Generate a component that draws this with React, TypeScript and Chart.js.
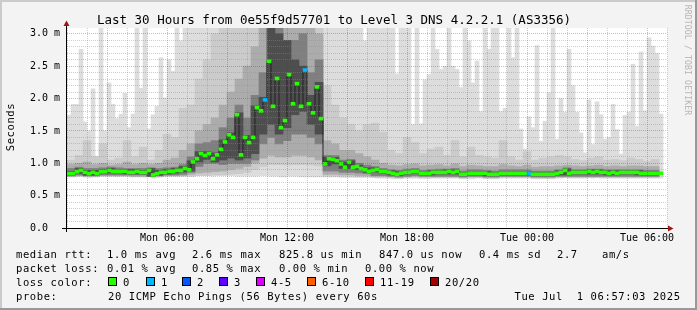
import React, { useEffect, useRef } from 'react';
import { Chart, registerables } from 'chart.js';

Chart.register(...registerables);

// ---------- text ----------
const titleText = 'Last 30 Hours from 0e55f9d57701 to Level 3 DNS 4.2.2.1 (AS3356)';
const yAxisTitle = 'Seconds';
const watermark = 'RRDTOOL / TOBI OETIKER';
const rttLabel = 'median rtt:';
const rttStats = ['1.0 ms avg', '2.6 ms max', '825.8 us min', '847.0 us now', '0.4 ms sd', '2.7', 'am/s'];
const lossLabel = 'packet loss:';
const lossStats = ['0.01 % avg', '0.85 % max', '0.00 % min', '0.00 % now'];
const lossColorLabel = 'loss color:';
const lossColorNames = ['0', '1', '2', '3', '4-5', '6-10', '11-19', '20/20'];
const lossColors = ['#26ff00', '#00b8ff', '#0059ff', '#5e00ff', '#dd00ff', '#ff5e00', '#ff0000', '#a10000'];
const probeLabel = 'probe:';
const probeText = '20 ICMP Echo Pings (56 Bytes) every 60s';
const stampText = 'Tue Jul  1 06:57:03 2025';

// ---------- axes ----------
const startHour = 1; // Mon 01:00
const endHour = 31; // Tue 07:00
const stepHours = 0.2; // one sample every 12 minutes
const timeTickHours = [6, 12, 18, 24, 30];
const timeTickLabels = ['Mon 06:00', 'Mon 12:00', 'Mon 18:00', 'Tue 00:00', 'Tue 06:00'];
const yTickValues = [0, 0.5, 1, 1.5, 2, 2.5, 3];
const yTickLabels = ['0.0', '0.5 m', '1.0 m', '1.5 m', '2.0 m', '2.5 m', '3.0 m'];
const yMax = 3.09;

// ---------- data (ms) ----------
const medianMs = [
  0.84, 0.84, 0.87, 0.89, 0.86, 0.84, 0.86, 0.84, 0.87, 0.87,
  0.89, 0.875, 0.875, 0.875, 0.875, 0.86, 0.86, 0.875, 0.86, 0.86,
  0.89, 0.82, 0.84, 0.86, 0.86, 0.875, 0.875, 0.89, 0.89, 0.92,
  0.90, 1.02, 1.07, 1.15, 1.12, 1.15, 1.07, 1.13, 1.215, 1.33,
  1.44, 1.40, 1.75, 1.13, 1.40, 1.32, 1.40, 1.86, 1.81, 1.98,
  2.575, 1.88, 2.31, 1.55, 1.66, 2.37, 1.92, 2.23, 1.88, 2.44,
  1.92, 1.78, 2.18, 1.69, 0.99, 1.07, 1.06, 1.04, 0.99, 0.94,
  1.015, 0.94, 0.95, 0.92, 0.90, 0.875, 0.89, 0.905, 0.875, 0.875,
  0.86, 0.845, 0.83, 0.845, 0.86, 0.86, 0.875, 0.875, 0.845, 0.845,
  0.845, 0.86, 0.86, 0.86, 0.86, 0.875, 0.86, 0.875, 0.83, 0.83,
  0.845, 0.845, 0.845, 0.845, 0.845, 0.83, 0.83, 0.83, 0.845, 0.845,
  0.845, 0.845, 0.845, 0.845, 0.845, 0.845, 0.83, 0.83, 0.83, 0.83,
  0.83, 0.83, 0.845, 0.86, 0.89, 0.845, 0.86, 0.86, 0.86, 0.86,
  0.875, 0.86, 0.875, 0.86, 0.86, 0.845, 0.86, 0.845, 0.86, 0.86,
  0.86, 0.86, 0.86, 0.845, 0.845, 0.845, 0.845, 0.845, 0.845, null,
];

const lossSampleIndex = [49, 59, 115];
const lossSampleCount = [1, 1, 1];

const smokeMinMs = [
  0.79, 0.79, 0.79, 0.80, 0.79, 0.78, 0.79, 0.79, 0.80, 0.80,
  0.80, 0.80, 0.79, 0.80, 0.80, 0.79, 0.79, 0.80, 0.79, 0.79,
  0.80, 0.77, 0.78, 0.79, 0.79, 0.80, 0.80, 0.80, 0.80, 0.81,
  0.80, 0.80, 0.81, 0.81, 0.81, 0.81, 0.80, 0.81, 0.81, 0.81,
  0.81, 0.81, 0.80, 0.80, 0.80, 0.80, 0.80, 0.80, 0.81, 0.81,
  0.80, 0.80, 0.80, 0.79, 0.79, 0.80, 0.80, 0.80, 0.79, 0.79,
  0.79, 0.79, 0.79, 0.79, 0.79, 0.79, 0.79, 0.79, 0.78, 0.78,
  0.78, 0.78, 0.78, 0.78, 0.78, 0.78, 0.78, 0.77, 0.77, 0.77,
  0.77, 0.76, 0.76, 0.76, 0.77, 0.77, 0.77, 0.77, 0.76, 0.76,
  0.76, 0.77, 0.77, 0.77, 0.77, 0.77, 0.77, 0.77, 0.76, 0.76,
  0.76, 0.76, 0.77, 0.77, 0.76, 0.76, 0.76, 0.76, 0.77, 0.77,
  0.77, 0.77, 0.77, 0.77, 0.77, 0.77, 0.76, 0.76, 0.76, 0.76,
  0.76, 0.76, 0.77, 0.77, 0.78, 0.77, 0.77, 0.77, 0.77, 0.77,
  0.78, 0.77, 0.78, 0.77, 0.77, 0.77, 0.77, 0.77, 0.77, 0.77,
  0.77, 0.77, 0.77, 0.77, 0.77, 0.77, 0.77, 0.77, 0.77, null,
];

const smokeMaxMs = [
  1.74, 1.91, 1.91, 2.76, 1.64, 1.50, 2.15, 1.11, 3.2, 1.50,
  2.24, 1.91, 1.69, 1.76, 2.08, 1.55, 1.76, 3.2, 2.16, 3.2,
  1.53, 1.75, 1.88, 2.63, 2.01, 2.60, 2.42, 3.2, 2.89, 3.2,
  3.2, 3.2, 3.2, 3.2, 3.2, 3.2, 3.2, 3.2, 3.2, 3.2,
  3.2, 3.2, 3.2, 3.2, 3.2, 3.2, 3.2, 3.2, 3.2, 3.2,
  3.2, 3.2, 3.2, 3.2, 3.2, 3.2, 3.2, 3.2, 3.2, 3.2,
  3.2, 3.2, 3.2, 3.2, 3.2, 3.2, 3.2, 3.2, 3.2, 3.2,
  3.2, 3.2, 3.2, 3.2, 2.89, 3.2, 3.2, 3.2, 3.08, 3.2,
  3.2, 3.2, 2.38, 3.2, 3.2, 3.2, 1.60, 3.2, 1.61, 2.29,
  2.37, 3.2, 2.76, 2.45, 2.50, 3.2, 2.50, 2.45, 2.17, 3.2,
  2.89, 2.24, 2.58, 1.80, 3.2, 2.76, 3.2, 3.2, 1.80, 1.85,
  3.2, 2.63, 3.2, 1.53, 1.22, 1.72, 1.55, 2.82, 1.34, 1.65,
  2.09, 3.2, 1.37, 2.00, 1.79, 2.76, 2.20, 1.79, 1.47, 1.16,
  1.98, 1.29, 1.95, 1.75, 1.37, 1.40, 1.91, 1.52, 1.14, 1.74,
  1.79, 2.53, 1.57, 2.72, 1.81, 2.94, 2.81, 2.70, 1.76, null,
];

// inner smoke bands, one value per two samples (24 minutes)
const band2Lo = [
  0.79, 0.80, 0.79, 0.79, 0.80, 0.80, 0.80, 0.80, 0.79, 0.79, 0.79, 0.79, 0.80, 0.80, 0.80,
  0.80, 0.81, 0.81, 0.82, 0.82, 0.83, 0.84, 0.86, 0.90, 0.95, 0.98, 0.98, 0.97, 0.98, 0.98, 0.97, 0.96,
  0.80, 0.80, 0.80, 0.80, 0.79, 0.79,
  0.78, 0.78, 0.78, 0.77, 0.78, 0.78, 0.78, 0.78, 0.78, 0.78, 0.78, 0.77, 0.78, 0.78, 0.77, 0.77, 0.78, 0.78, 0.78,
  0.78, 0.77, 0.77, 0.77, 0.78, 0.78, 0.78, 0.78, 0.78, 0.78, 0.78, 0.78, 0.78, 0.78, 0.78, 0.78, 0.78,
  null,
];
const band2Hi = [
  1.05, 1.12, 1.35, 1.10, 1.30, 1.05, 1.08, 1.35, 1.10, 1.25, 1.05, 1.20, 1.45, 1.40, 1.85,
  1.9, 2.3, 2.6, 3.0, 3.2, 3.2, 3.2, 3.2, 3.2, 3.2, 3.2, 3.2, 3.2, 3.2, 3.2, 3.2, 3.2,
  2.2, 1.9, 1.7, 1.6, 1.5, 1.6,
  1.62, 1.48, 1.20, 1.15, 1.40, 1.32, 1.15, 1.22, 1.25, 1.12, 1.35, 1.10, 1.25, 1.12, 1.10, 1.08, 1.35, 1.10, 1.05,
  1.18, 1.05, 1.08, 1.10, 1.12, 1.10, 1.06, 1.04, 1.08, 1.10, 1.05, 1.06, 1.04, 1.08, 1.06, 1.03, 1.06,
  null,
];
const band3Lo = [
  0.80, 0.81, 0.80, 0.80, 0.81, 0.81, 0.81, 0.81, 0.80, 0.80, 0.80, 0.80, 0.81, 0.81, 0.81,
  0.83, 0.85, 0.86, 0.87, 0.88, 0.90, 0.92, 0.95, 1.00, 1.08, 1.12, 1.10, 1.10, 1.12, 1.12, 1.10, 1.05,
  0.83, 0.83, 0.82, 0.82, 0.81, 0.81,
  0.80, 0.80, 0.79, 0.78, 0.79, 0.80, 0.79, 0.79, 0.79, 0.79, 0.79, 0.78, 0.79, 0.79, 0.78, 0.78, 0.79, 0.79, 0.79,
  0.79, 0.78, 0.78, 0.78, 0.79, 0.79, 0.79, 0.79, 0.79, 0.79, 0.79, 0.79, 0.79, 0.79, 0.79, 0.79, 0.79,
  null,
];
const band3Hi = [
  0.98, 1.00, 1.02, 0.98, 1.00, 0.97, 0.98, 1.02, 0.98, 1.00, 0.98, 1.00, 1.05, 1.08, 1.20,
  1.30, 1.50, 1.60, 1.70, 1.90, 2.10, 2.30, 2.50, 2.80, 3.20, 3.20, 3.20, 3.20, 3.20, 3.20, 3.20, 3.00,
  1.35, 1.30, 1.20, 1.20, 1.15, 1.10,
  1.05, 1.00, 0.97, 0.96, 0.98, 0.99, 0.96, 0.97, 0.98, 0.96, 0.99, 0.95, 0.97, 0.96, 0.95, 0.95, 0.98, 0.96, 0.95,
  0.97, 0.94, 0.95, 0.95, 0.96, 0.97, 0.96, 0.95, 0.96, 0.97, 0.95, 0.96, 0.95, 0.96, 0.96, 0.95, 0.95,
  null,
];
const band4Lo = [
  0.81, 0.82, 0.81, 0.81, 0.82, 0.82, 0.82, 0.82, 0.82, 0.82, 0.80, 0.81, 0.82, 0.82, 0.83,
  0.86, 0.95, 1.00, 1.00, 0.98, 1.00, 1.00, 1.00, 1.05, 1.30, 1.40, 1.30, 1.35, 1.45, 1.45, 1.40, 1.30,
  0.88, 0.88, 0.86, 0.86, 0.85, 0.84,
  0.81, 0.81, 0.80, 0.79, 0.80, 0.81, 0.80, 0.80, 0.80, 0.80, 0.80, 0.79, 0.80, 0.80, 0.79, 0.79, 0.80, 0.80, 0.80,
  0.80, 0.79, 0.79, 0.79, 0.80, 0.80, 0.80, 0.80, 0.80, 0.80, 0.80, 0.80, 0.80, 0.80, 0.80, 0.80, 0.80,
  null,
];
const band4Hi = [
  0.92, 0.94, 0.92, 0.92, 0.93, 0.94, 0.93, 0.92, 0.92, 0.92, 0.93, 0.92, 0.93, 0.94, 0.98,
  1.10, 1.30, 1.32, 1.35, 1.55, 1.70, 1.90, 1.70, 2.05, 2.40, 3.20, 3.20, 2.90, 2.90, 3.00, 2.40, 2.60,
  1.12, 1.12, 1.05, 1.06, 1.00, 0.97,
  0.95, 0.92, 0.90, 0.89, 0.91, 0.92, 0.89, 0.90, 0.91, 0.91, 0.92, 0.88, 0.90, 0.90, 0.89, 0.88, 0.90, 0.90, 0.90,
  0.90, 0.88, 0.88, 0.88, 0.90, 0.93, 0.90, 0.90, 0.91, 0.91, 0.90, 0.90, 0.90, 0.90, 0.90, 0.89, 0.89,
  null,
];
const band5Lo = [
  0.815, 0.845, 0.815, 0.815, 0.845, 0.85, 0.85, 0.835, 0.835, 0.835, 0.795, 0.815, 0.835, 0.85, 0.865,
  0.88, 1.02, 1.06, 1.02, 1.05, 1.08, 1.05, 1.08, 1.15, 1.45, 1.60, 1.45, 1.55, 1.75, 1.80, 1.60, 1.45,
  0.96, 0.99, 0.92, 0.92, 0.90, 0.86,
  0.865, 0.85, 0.82, 0.81, 0.835, 0.85, 0.82, 0.82, 0.835, 0.835, 0.835, 0.805, 0.82, 0.82, 0.805, 0.805, 0.82, 0.82, 0.82,
  0.82, 0.805, 0.805, 0.805, 0.82, 0.82, 0.835, 0.835, 0.835, 0.835, 0.82, 0.82, 0.835, 0.835, 0.82, 0.82, 0.82,
  null,
];
const band5Hi = [
  0.87, 0.92, 0.89, 0.89, 0.90, 0.92, 0.905, 0.905, 0.905, 0.89, 0.92, 0.89, 0.905, 0.92, 0.95,
  1.04, 1.18, 1.18, 1.16, 1.36, 1.47, 1.78, 1.43, 1.89, 2.02, 3.20, 3.00, 2.90, 2.60, 2.50, 2.05, 2.25,
  1.10, 1.09, 1.02, 1.04, 0.97, 0.93,
  0.93, 0.90, 0.885, 0.87, 0.885, 0.90, 0.87, 0.885, 0.885, 0.90, 0.90, 0.855, 0.87, 0.87, 0.87, 0.855, 0.87, 0.87, 0.87,
  0.87, 0.855, 0.855, 0.855, 0.885, 0.915, 0.885, 0.885, 0.90, 0.90, 0.885, 0.885, 0.885, 0.885, 0.885, 0.87, 0.87,
  null,
];

// ---------- styles / layout ----------
const bandColors = ['#dddddd', '#cbcbcb', '#acacac', '#7f7f7f', '#4e4e4e'];
const medianLineColor = '#202020';
const redGrid = 'rgba(229,0,0,0.33)';
const grayGrid = 'rgba(140,140,140,0.42)';
const arrowColor = '#a01515';
const FONT = '"DejaVu Sans Mono", monospace';
const dashHalf = 0.023; // half height of the median marker (ms)

const rttX = [107, 192, 279, 379, 479, 557, 602];
const lossX = [107, 192, 279, 365];
const swatchX = [108, 146, 182, 219, 256, 307, 365, 430];
const rowBase = [257.5, 271.5, 285.5, 299.5];

function lossColorFor(count: number): string {
  if (count <= 0) return lossColors[0];
  if (count === 1) return lossColors[1];
  if (count === 2) return lossColors[2];
  if (count === 3) return lossColors[3];
  if (count <= 5) return lossColors[4];
  if (count <= 10) return lossColors[5];
  if (count <= 19) return lossColors[6];
  return lossColors[7];
}

const rrdDecor = {
  id: 'rrdDecor',
  beforeDraw(chart: any) {
    const { ctx, chartArea: a } = chart;
    ctx.save();
    ctx.fillStyle = '#ffffff';
    ctx.fillRect(a.left, a.top, a.right - a.left, a.bottom - a.top);
    ctx.restore();
  },
  afterDraw(chart: any) {
    const { ctx, chartArea: a, width, height } = chart;
    ctx.save();
    ctx.strokeStyle = '#000000';
    ctx.lineWidth = 1;
    ctx.beginPath();
    ctx.moveTo(a.left - 5, a.bottom + 0.5);
    ctx.lineTo(a.right + 1, a.bottom + 0.5);
    ctx.stroke();
    ctx.beginPath();
    ctx.moveTo(a.left - 0.5, a.bottom + 4);
    ctx.lineTo(a.left - 0.5, a.top - 2);
    ctx.stroke();
    ctx.fillStyle = arrowColor;
    ctx.beginPath();
    ctx.moveTo(a.right + 1, a.bottom - 2.5);
    ctx.lineTo(a.right + 1, a.bottom + 3.5);
    ctx.lineTo(a.right + 6.5, a.bottom + 0.5);
    ctx.closePath();
    ctx.fill();
    ctx.beginPath();
    ctx.moveTo(a.left - 3.5, a.top - 2);
    ctx.lineTo(a.left + 2.5, a.top - 2);
    ctx.lineTo(a.left - 0.5, a.top - 7.5);
    ctx.closePath();
    ctx.fill();
    // frame
    ctx.fillStyle = '#cbcbcb';
    ctx.fillRect(0, 0, width, 2);
    ctx.fillRect(0, 0, 2, height);
    ctx.fillStyle = '#999999';
    ctx.fillRect(0, height - 2, width, 2);
    ctx.fillRect(width - 2, 0, 2, height);
    ctx.restore();
  },
};

export default function App() {
  const ref = useRef<HTMLCanvasElement>(null);

  useEffect(() => {
    const canvas = ref.current;
    if (!canvas) return;
    const xOf = (i: number) => startHour + (i + 0.5) * stepHours;
    const xOfPair = (j: number) => startHour + (j + 0.5) * 2 * stepHours;
    const toBars = (lo: (number | null)[], hi: (number | null)[], xf: (i: number) => number) => {
      const out: any[] = [];
      lo.forEach((l, i) => {
        const h = hi[i];
        if (l == null || h == null) return;
        out.push({ x: xf(i), y: [l, h] });
      });
      return out;
    };

    const dashData: any[] = [];
    const dashColors: string[] = [];
    medianMs.forEach((m, i) => {
      if (m == null) return;
      const k = lossSampleIndex.indexOf(i);
      const count = k >= 0 ? lossSampleCount[k] : 0;
      dashData.push({ x: xOf(i), y: [m - dashHalf, m + dashHalf] });
      dashColors.push(lossColorFor(count));
    });

    const barCommon = { grouped: false, barPercentage: 1, categoryPercentage: 1, borderWidth: 0 };
    const bandSets = [
      [band2Lo, band2Hi],
      [band3Lo, band3Hi],
      [band4Lo, band4Hi],
      [band5Lo, band5Hi],
    ].map(([lo, hi], n) => ({
      type: 'bar',
      label: 'smoke' + (n + 2),
      data: toBars(lo as any, hi as any, xOfPair),
      backgroundColor: bandColors[n + 1],
      xAxisID: 'x2',
      order: 9 - n,
      ...barCommon,
    }));

    const chart = new Chart(canvas, {
      type: 'bar',
      data: {
        datasets: [
          {
            type: 'bar',
            label: 'smoke1',
            data: toBars(smokeMinMs, smokeMaxMs, xOf),
            backgroundColor: bandColors[0],
            xAxisID: 'x',
            order: 10,
            ...barCommon,
          } as any,
          ...(bandSets as any[]),
          {
            type: 'line',
            label: 'median',
            data: medianMs.map((m, i) => ({ x: xOf(i), y: m })),
            borderColor: medianLineColor,
            borderWidth: 1,
            pointRadius: 0,
            stepped: 'middle',
            spanGaps: false,
            xAxisID: 'x',
            order: 2,
          } as any,
          {
            type: 'bar',
            label: 'median rtt',
            data: dashData,
            backgroundColor: dashColors,
            xAxisID: 'x',
            order: 1,
            ...barCommon,
          } as any,
        ],
      },
      options: {
        animation: false,
        responsive: false,
        events: [],
        layout: { padding: { left: 30, right: 30, top: 28, bottom: 0 } },
        plugins: { legend: { display: false }, tooltip: { enabled: false }, title: { display: false } },
        scales: {
          x: {
            type: 'linear',
            position: 'bottom',
            min: startHour,
            max: endHour,
            offset: false,
            afterBuildTicks: (s: any) => {
              const t: any[] = [];
              for (let h = startHour; h <= endHour; h++) t.push({ value: h });
              s.ticks = t;
            },
            afterFit: (s: any) => {
              s.height = 82;
            },
            ticks: {
              autoSkip: false,
              maxRotation: 0,
              minRotation: 0,
              padding: 4,
              color: '#000000',
              font: { family: FONT, size: 10 },
              z: 1,
              callback: (v: any) => {
                const i = timeTickHours.indexOf(Number(v));
                return i >= 0 ? timeTickLabels[i] : '';
              },
            },
            grid: {
              offset: false,
              drawTicks: false,
              lineWidth: 1,
              z: 1,
              color: (c: any) => (c.tick && Math.round(c.tick.value) % 3 === 0 ? redGrid : grayGrid),
            },
            border: { display: false, dash: [1, 1] },
          },
          x2: { type: 'linear', position: 'bottom', min: startHour, max: endHour, offset: false, display: false },
          y: {
            type: 'linear',
            position: 'left',
            min: 0,
            max: yMax,
            afterBuildTicks: (s: any) => {
              const t: any[] = [];
              for (let i = 0; i <= 30; i++) t.push({ value: i / 10 });
              s.ticks = t;
            },
            afterFit: (s: any) => {
              s.width = 37;
            },
            ticks: {
              autoSkip: false,
              crossAlign: 'far',
              padding: 0,
              color: '#000000',
              font: { family: FONT, size: 10 },
              z: 1,
              callback: (v: any) => {
                const i = yTickValues.findIndex((t) => Math.abs(t - Number(v)) < 1e-6);
                return i >= 0 ? yTickLabels[i] : '';
              },
            },
            grid: {
              drawTicks: false,
              lineWidth: 1,
              z: 1,
              color: (c: any) => (c.tick && Math.round(c.tick.value * 10) % 5 === 0 ? redGrid : grayGrid),
            },
            border: { display: false, dash: [1, 1] },
          },
        },
      } as any,
      plugins: [rrdDecor],
    });
    return () => chart.destroy();
  }, []);

  const legendText = (x: number, base: number, text: string, key: string) => (
    <span
      key={key}
      style={{
        position: 'absolute',
        left: x,
        top: base - 10.65,
        fontSize: 10.5,
        letterSpacing: 0.6,
        lineHeight: '14px',
        whiteSpace: 'pre',
        color: '#000',
      }}
    >
      {text}
    </span>
  );

  return (
    <div
      style={{
        position: 'absolute',
        left: 0,
        top: 0,
        width: 697,
        height: 310,
        background: '#f3f3f3',
        overflow: 'hidden',
        fontFamily: FONT,
      }}
    >
      <canvas ref={ref} width={697} height={310} style={{ position: 'absolute', left: 0, top: 0, width: 697, height: 310 }} />
      <div
        style={{
          position: 'absolute',
          left: 0,
          width: 668,
          top: 11.7,
          textAlign: 'center',
          fontSize: 12.5,
          lineHeight: '16px',
          whiteSpace: 'pre',
          color: '#000',
        }}
      >
        {titleText}
      </div>
      <div
        style={{
          position: 'absolute',
          left: -20,
          top: 119.5,
          width: 60,
          height: 14,
          textAlign: 'center',
          fontSize: 10.5,
          letterSpacing: 0.6,
          lineHeight: '14px',
          color: '#000',
          transform: 'rotate(-90deg)',
        }}
      >
        {yAxisTitle}
      </div>
      <div
        style={{
          position: 'absolute',
          left: 628,
          top: 55,
          width: 120,
          height: 10,
          textAlign: 'center',
          fontSize: 8.2,
          letterSpacing: 0.1,
          lineHeight: '10px',
          color: '#b4b4b4',
          transform: 'rotate(90deg)',
          whiteSpace: 'pre',
        }}
      >
        {watermark}
      </div>
      {legendText(16, rowBase[0], rttLabel, 'r0')}
      {rttStats.map((t, i) => legendText(rttX[i], rowBase[0], t, 'r' + (i + 1)))}
      {legendText(16, rowBase[1], lossLabel, 'l0')}
      {lossStats.map((t, i) => legendText(lossX[i], rowBase[1], t, 'l' + (i + 1)))}
      {legendText(16, rowBase[2], lossColorLabel, 'c0')}
      {lossColorNames.map((name, i) => (
        <React.Fragment key={'sw' + i}>
          <span
            style={{
              position: 'absolute',
              left: swatchX[i],
              top: 277,
              width: 7,
              height: 7,
              background: lossColors[i],
              border: '1px solid #000',
            }}
          />
          {legendText(swatchX[i] + 15, rowBase[2], name, 'cn' + i)}
        </React.Fragment>
      ))}
      {legendText(16, rowBase[3], probeLabel, 'p0')}
      {legendText(108, rowBase[3], probeText, 'p1')}
      <span
        style={{
          position: 'absolute',
          right: 16.4,
          top: rowBase[3] - 10.65,
          fontSize: 10.5,
          letterSpacing: 0.6,
          lineHeight: '14px',
          whiteSpace: 'pre',
          color: '#000',
        }}
      >
        {stampText}
      </span>
    </div>
  );
}
